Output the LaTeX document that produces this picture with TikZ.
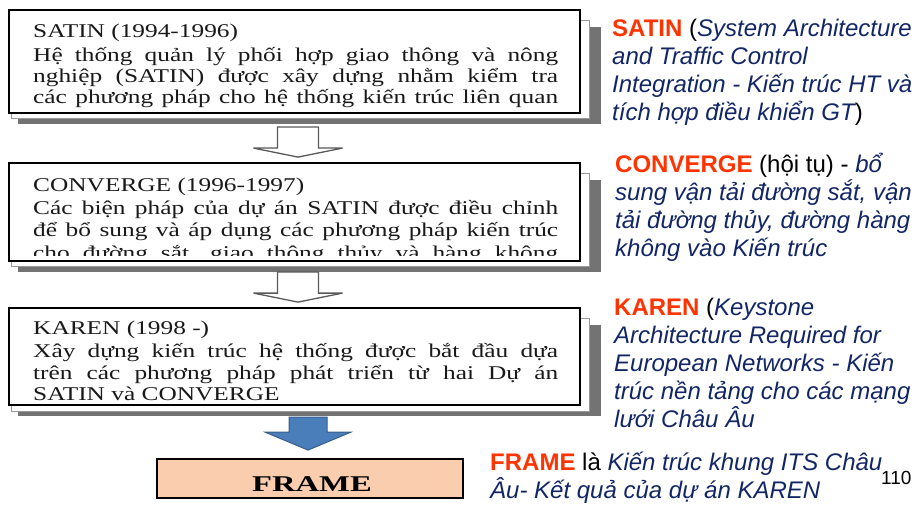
\documentclass[tikz,border=0pt]{standalone}
\usepackage{fontspec}
\setmainfont{Liberation Serif}
\newfontfamily\boxfont[FakeStretch=1.3]{Liberation Serif}
\newfontfamily\framefont[FakeStretch=1.45]{Liberation Serif}
\newfontfamily\sidefont{Liberation Sans}
\usetikzlibrary{calc,backgrounds}
\definecolor{kwred}{RGB}{255,51,0}
\definecolor{navy}{RGB}{18,38,102}
\definecolor{peach}{RGB}{250,205,175}
\definecolor{arrowblue}{RGB}{74,126,187}
\definecolor{arrowedge}{RGB}{56,93,138}
\newcommand\kw[1]{{\color{kwred}\bfseries #1}}
\newcommand\nv[1]{{\color{navy}\itshape #1}}
\newcommand\jline[1]{\makebox[525pt][s]{#1}}
\tikzset{
  mainbox/.style={draw=black, line width=1.8pt, fill=white, inner sep=0pt, minimum width=571pt},
  framebox/.style={draw=black, line width=1.8pt, fill=peach, inner sep=0pt, minimum width=306pt, minimum height=39pt},
  boxtxt/.style={anchor=base west, inner sep=0pt, font=\boxfont\fontsize{19.5}{22}\selectfont, text=black!90},
  sidetxt/.style={anchor=base west, inner sep=0pt, font=\sidefont\fontsize{24}{28}\selectfont},
  hollow/.style={draw=black!65, line width=1.3pt, fill=white, line join=miter},
  shadowfill/.style={fill=black!55},
  midlayer/.style={fill=white, draw=black!40, line width=0.8pt},
  bluearrow/.style={fill=arrowblue, draw=arrowedge, line width=1pt, line join=miter}
}
\begin{document}
\begin{tikzpicture}[x=1pt,y=1pt]
\useasboundingbox (0,0) rectangle (915,-521);

% main boxes
\node[mainbox, minimum height=103pt] (box1) at (294.5,-61.5) {};
\node[mainbox, minimum height=98pt] (box2) at (294.5,-212) {};
\node[mainbox, minimum height=97pt] (box3) at (294.5,-356.5) {};
\node[framebox] (frame) at (310,-478.5) {};
\node[anchor=base, inner sep=0pt, font=\framefont\bfseries\fontsize{22.5}{24}\selectfont] (frametxt) at (312,-491) {FRAME};

% shadows
\begin{scope}[on background layer]
  \foreach \b in {box1,box2,box3}{
    \fill[shadowfill] ($(\b.south west)+(10,-10)$) rectangle ($(\b.north east)+(20,-18)$);
    \filldraw[midlayer] ($(\b.south west)+(3,-5)$) rectangle ($(\b.north east)+(8,-11)$);
  }
\end{scope}

% box 1 text
\node[boxtxt] (b1t) at (33,-38) {SATIN (1994-1996)};
\node[boxtxt] (b1l1) at (33,-62) {\jline{Hệ thống quản lý phối hợp giao thông và nông}};
\node[boxtxt] (b1l2) at (33,-83) {\jline{nghiệp (SATIN) được xây dựng nhằm kiểm tra}};
\node[boxtxt] (b1l3) at (33,-104) {\jline{các phương pháp cho hệ thống kiến trúc liên quan}};

% box 2 text
\node[boxtxt] (b2t) at (33,-192) {CONVERGE (1996-1997)};
\node[boxtxt] (b2l1) at (33,-215) {\jline{Các biện pháp của dự án SATIN được điều chỉnh}};
\node[boxtxt] (b2l2) at (33,-237) {\jline{để bổ sung và áp dụng các phương pháp kiến trúc}};
\begin{scope}
  \clip (30,-240) rectangle (560,-255.5);
  \node[boxtxt] (b2l3) at (33,-259) {\jline{cho đường sắt, giao thông thủy và hàng không}};
\end{scope}

% box 3 text
\node[boxtxt] (b3t) at (33,-334) {KAREN (1998 -)};
\node[boxtxt] (b3l1) at (33,-357) {\jline{Xây dựng kiến trúc hệ thống được bắt đầu dựa}};
\node[boxtxt] (b3l2) at (33,-379) {\jline{trên các phương pháp phát triển từ hai Dự án}};
\node[boxtxt] (b3l3) at (33,-400) {SATIN và CONVERGE};

% hollow arrows
\coordinate (a1) at ($(box2.north)+(3.5,0)$);
\coordinate (a2) at ($(box3.north)+(3.5,0)$);
\foreach \c in {a1,a2}{
  \draw[hollow] ($(\c)+(0,5)$) -- ($(\c)+(44.5,14)$) -- ($(\c)+(20.5,14)$) -- ($(\c)+(20.5,35)$)
     -- ($(\c)+(-20.5,35)$) -- ($(\c)+(-20.5,14)$) -- ($(\c)+(-44.5,14)$) -- cycle;
}
% blue arrow
\coordinate (a3) at ($(frame.north)+(-2,0)$);
\draw[bluearrow] ($(a3)+(0,8)$) -- ($(a3)+(43,26)$) -- ($(a3)+(19,26)$) -- ($(a3)+(19,41)$)
   -- ($(a3)+(-19,41)$) -- ($(a3)+(-19,26)$) -- ($(a3)+(-43,26)$) -- cycle;

% right side text
\node[sidetxt] (s1) at (612,-37) {\kw{SATIN} (\nv{System Architecture}};
\node[sidetxt] (s2) at (612,-65) {\nv{and Traffic Control}};
\node[sidetxt] (s3) at (612,-93) {\nv{Integration - Kiến trúc HT và}};
\node[sidetxt] (s4) at (612,-121) {\nv{tích hợp điều khiển GT})};

\node[sidetxt] (c1) at (615,-173) {\kw{CONVERGE} (hội tụ) - \nv{bổ}};
\node[sidetxt] (c2) at (615,-201) {\nv{sung vận tải đường sắt, vận}};
\node[sidetxt] (c3) at (615,-229) {\nv{tải đường thủy, đường hàng}};
\node[sidetxt] (c4) at (615,-257) {\nv{không vào Kiến trúc}};

\node[sidetxt] (k1) at (614,-315) {\kw{KAREN} (\nv{Keystone}};
\node[sidetxt] (k2) at (614,-343) {\nv{Architecture Required for}};
\node[sidetxt] (k3) at (614,-371) {\nv{European Networks - Kiến}};
\node[sidetxt] (k4) at (614,-399) {\nv{trúc nền tảng cho các mạng}};
\node[sidetxt] (k5) at (614,-427) {\nv{lưới Châu Âu}};

\node[sidetxt] (f1) at (490,-470) {\kw{FRAME} là \nv{Kiến trúc khung ITS Châu}};
\node[sidetxt] (f2) at (490,-498) {\nv{Âu- Kết quả của dự án KAREN}};

\node[anchor=base west, inner sep=0pt, font=\sidefont\fontsize{19}{22}\selectfont] (pnum) at (881,-484) {110};
\end{tikzpicture}
\end{document}
